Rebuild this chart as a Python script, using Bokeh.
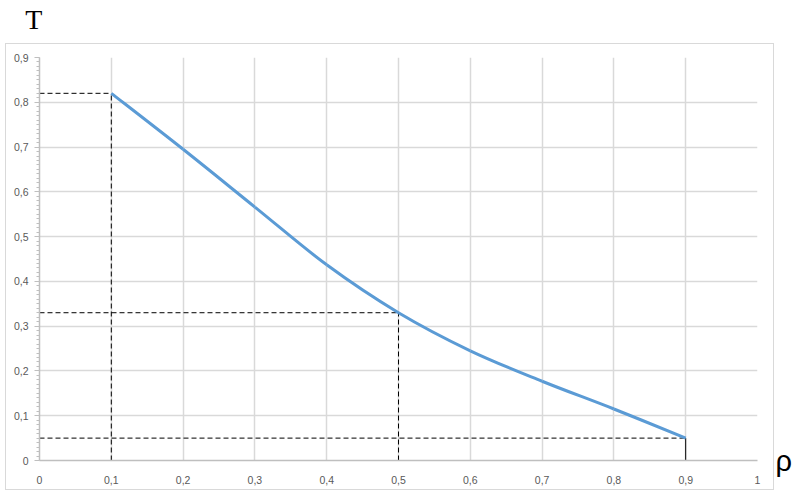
from bokeh.plotting import figure
from bokeh.models import FixedTicker, Range1d, LinearAxis, InlineStyleSheet
from bokeh.embed import file_html
from bokeh.resources import INLINE

# ---- data ----
rho = [0.1, 0.2, 0.3, 0.4, 0.5, 0.6, 0.7, 0.8, 0.9]
T = [0.82, 0.695, 0.566, 0.437, 0.33, 0.245, 0.177, 0.115, 0.05]

mark_x = [0.1, 0.5, 0.9]
mark_y = [0.82, 0.33, 0.05]

x_ticks = [0, 0.1, 0.2, 0.3, 0.4, 0.5, 0.6, 0.7, 0.8, 0.9, 1.0]
x_labels = ["0", "0,1", "0,2", "0,3", "0,4", "0,5", "0,6", "0,7", "0,8", "0,9", "1"]
y_ticks = [0, 0.1, 0.2, 0.3, 0.4, 0.5, 0.6, 0.7, 0.8, 0.9]
y_labels = ["0", "0,1", "0,2", "0,3", "0,4", "0,5", "0,6", "0,7", "0,8", "0,9"]
y_minor = [i / 100 for i in range(0, 91)]

p = figure(width=800, height=495, output_backend="svg", toolbar_location=None,
           x_range=Range1d(0, 1), y_range=Range1d(0, 0.9),
           min_border_left=39, min_border_right=43, min_border_top=57, min_border_bottom=35)
p.outline_line_color = None
p.background_fill_color = "white"
p.border_fill_color = "white"

# outer chart-area border (drawn with CSS over the figure)
p.stylesheets = [InlineStyleSheet(css="""
:host { position: relative; }
:host::after {
  content: "";
  position: absolute;
  left: 5px; top: 43px; width: 767px; height: 445px;
  border: 1px solid #d9d9d9;
  pointer-events: none;
  z-index: 5;
}
""")]

# grid
p.xaxis.ticker = FixedTicker(ticks=x_ticks)
p.yaxis.ticker = FixedTicker(ticks=y_ticks, minor_ticks=y_minor)
for g in (p.xgrid, p.ygrid):
    g.grid_line_color = "#d9d9d9"
    g.grid_line_width = 1.5

# axes
p.xaxis.major_label_overrides = {t: l for t, l in zip(x_ticks, x_labels)}
p.yaxis.major_label_overrides = {t: l for t, l in zip(y_ticks, y_labels)}
for ax in (p.xaxis, p.yaxis):
    ax.axis_line_color = "#bfbfbf"
    ax.axis_line_width = 1.5
    ax.major_label_text_font = "Liberation Sans"
    ax.major_label_text_font_size = "10.5px"
    ax.major_label_text_color = "#595959"
    ax.major_tick_in = 0
    ax.minor_tick_in = 0
p.xaxis.major_tick_out = 0
p.xaxis.minor_tick_out = 0
p.xaxis.major_label_standoff = 15
p.yaxis.major_tick_out = 5
p.yaxis.minor_tick_out = 3
p.yaxis.major_tick_line_color = "#bfbfbf"
p.yaxis.minor_tick_line_color = "#bfbfbf"
p.yaxis.major_label_standoff = 6

# "T" as the single tick label of a bare axis above, at x = 0
t_pos = 0.0
t_axis = LinearAxis(ticker=FixedTicker(ticks=[t_pos]),
                    major_label_overrides={t_pos: "T\u2009\u2009"},
                    major_label_standoff=23, axis_line_color=None,
                    major_tick_line_color=None, minor_tick_line_color=None,
                    major_tick_out=0, major_tick_in=0,
                    major_label_text_font="Liberation Serif",
                    major_label_text_font_size="28px",
                    major_label_text_color="black")
p.add_layout(t_axis, "above")

# "ρ" as the single tick label of a bare axis on the right, at the bottom
rho_pos = 0.0
rho_axis = LinearAxis(ticker=FixedTicker(ticks=[rho_pos]),
                      major_label_overrides={rho_pos: "ρ"},
                      major_label_standoff=18, axis_line_color=None,
                      major_tick_line_color=None, minor_tick_line_color=None,
                      major_tick_out=0, major_tick_in=0,
                      major_label_text_font="Liberation Sans",
                      major_label_text_font_size="29px",
                      major_label_text_color="black")
p.add_layout(rho_axis, "right")

# dashed guide lines
hx0 = [0 for _ in mark_x]
p.segment(x0=hx0, y0=mark_y, x1=mark_x, y1=mark_y, line_color="black",
          line_width=1, line_dash="5 3")
p.segment(x0=mark_x[:2], y0=[0, 0], x1=mark_x[:2], y1=mark_y[:2], line_color="black",
          line_width=1, line_dash="5 3")
p.segment(x0=mark_x[2:], y0=[0], x1=mark_x[2:], y1=mark_y[2:], line_color="black",
          line_width=1)

# smoothed curve (cubic Bezier pieces through the data points, like a smoothed line)
n = len(rho)
px = [rho[0]] + rho + [rho[-1]]
py = [T[0]] + T + [T[-1]]
x0, y0, x1, y1, cx0, cy0, cx1, cy1 = [], [], [], [], [], [], [], []
for i in range(1, n):
    x0.append(px[i]); y0.append(py[i])
    x1.append(px[i + 1]); y1.append(py[i + 1])
    cx0.append(px[i] + (px[i + 1] - px[i - 1]) / 6)
    cy0.append(py[i] + (py[i + 1] - py[i - 1]) / 6)
    cx1.append(px[i + 1] - (px[i + 2] - px[i]) / 6)
    cy1.append(py[i + 1] - (py[i + 2] - py[i]) / 6)
p.bezier(x0=x0, y0=y0, x1=x1, y1=y1, cx0=cx0, cy0=cy0, cx1=cx1, cy1=cy1,
         line_color="#5b9bd5", line_width=3)

open("out.html", "w").write(file_html(p, INLINE))
